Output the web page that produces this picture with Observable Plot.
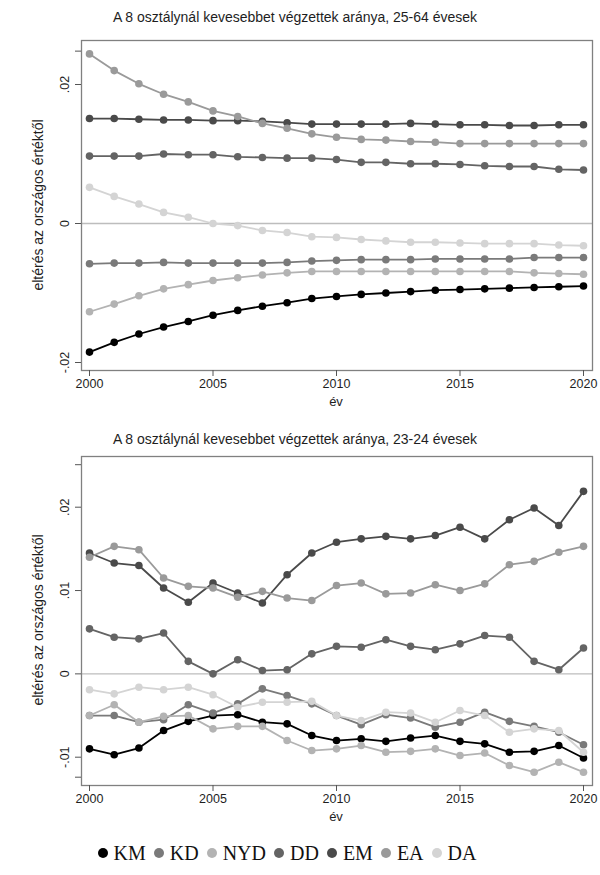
<!DOCTYPE html>
<html>
<head>
<meta charset="utf-8">
<script src="https://cdn.jsdelivr.net/npm/d3@7"></script>
<script src="https://cdn.jsdelivr.net/npm/@observablehq/plot@0.6"></script>
<style>
  body { margin: 0; background: #fff; width: 600px; height: 875px; position: relative; overflow: hidden;
         font-family: "Liberation Sans", Arial, sans-serif; color: #1e1e1e; }
  .abs { position: absolute; }
  .panel { position: absolute; left: 0; width: 600px; height: 410px; }
  .title { font-size: 14px; left: 0; width: 590px; text-align: center; white-space: nowrap; }
  .ylab { font-size: 14px; white-space: nowrap; transform: translate(-50%, -50%) rotate(-90deg); }
  .xlab { font-size: 13px; transform: translate(-50%, -50%); }
  .legend { left: 0; width: 574px; text-align: center; font-family: "Liberation Serif", "Times New Roman", serif;
            font-size: 20px; color: #111; white-space: nowrap; }
  .legend .item { display: inline-block; margin: 0 4px; }
  .legend .dot { display: inline-block; width: 10px; height: 10px; border-radius: 50%; margin-right: 6px; vertical-align: 2px; }
  #err { position: absolute; left: 100px; top: 100px; color: red; font-size: 11px; width: 480px; }
</style>
</head>
<body>
<div id="top" class="panel" style="top:0"></div>
<div id="bottom" class="panel" style="top:420px"></div>
<div class="abs title" style="top:9px">A 8 osztálynál kevesebbet végzettek aránya, 25-64 évesek</div>
<div class="abs ylab" style="left:38px; top:205px">eltérés az országos értéktől</div>
<div class="abs xlab" style="left:336px; top:401px">év</div>
<div class="abs title" style="top:431px">A 8 osztálynál kevesebbet végzettek aránya, 23-24 évesek</div>
<div class="abs ylab" style="left:38px; top:620px">eltérés az országos értéktől</div>
<div class="abs xlab" style="left:336px; top:816px">év</div>
<div id="legend" class="abs legend" style="top:842px"></div>
<div id="err"></div>
<script>
const years = [2000, 2001, 2002, 2003, 2004, 2005, 2006, 2007, 2008, 2009, 2010,
               2011, 2012, 2013, 2014, 2015, 2016, 2017, 2018, 2019, 2020];
const xTicks = [2000, 2005, 2010, 2015, 2020];
const seriesNames = ["KM", "KD", "NYD", "DD", "EM", "EA", "DA"];
const seriesColors = ["#000000", "#7a7a7a", "#b3b3b3", "#646464", "#4a4a4a", "#9a9a9a", "#d4d4d4"];

// Panel 1: 25-64 évesek
const top_KM  = [-0.0185, -0.0171, -0.0159, -0.0149, -0.0141, -0.0132, -0.0125, -0.0119, -0.0114, -0.0108, -0.0105, -0.0102, -0.0100, -0.0098, -0.0096, -0.0095, -0.0094, -0.0093, -0.0092, -0.0091, -0.0090];
const top_KD  = [-0.0058, -0.0057, -0.0057, -0.0056, -0.0057, -0.0057, -0.0057, -0.0057, -0.0056, -0.0054, -0.0053, -0.0052, -0.0052, -0.0052, -0.0051, -0.0051, -0.0051, -0.0051, -0.0049, -0.0049, -0.0049];
const top_NYD = [-0.0127, -0.0116, -0.0104, -0.0094, -0.0088, -0.0082, -0.0078, -0.0074, -0.0071, -0.0069, -0.0069, -0.0069, -0.0069, -0.0069, -0.0069, -0.0069, -0.0069, -0.0069, -0.0071, -0.0072, -0.0073];
const top_DD  = [0.0097, 0.0097, 0.0097, 0.0100, 0.0099, 0.0099, 0.0096, 0.0095, 0.0094, 0.0094, 0.0092, 0.0088, 0.0088, 0.0086, 0.0086, 0.0085, 0.0083, 0.0082, 0.0082, 0.0078, 0.0077];
const top_EM  = [0.0151, 0.0151, 0.0150, 0.0149, 0.0149, 0.0148, 0.0148, 0.0147, 0.0145, 0.0143, 0.0143, 0.0143, 0.0143, 0.0144, 0.0143, 0.0142, 0.0142, 0.0141, 0.0141, 0.0142, 0.0142];
const top_EA  = [0.0244, 0.0220, 0.0201, 0.0186, 0.0175, 0.0162, 0.0154, 0.0144, 0.0137, 0.0129, 0.0124, 0.0121, 0.0120, 0.0118, 0.0117, 0.0115, 0.0115, 0.0115, 0.0115, 0.0115, 0.0115];
const top_DA  = [0.0052, 0.0039, 0.0028, 0.0016, 0.0009, 0.0000, -0.0003, -0.0010, -0.0013, -0.0019, -0.0020, -0.0023, -0.0025, -0.0027, -0.0027, -0.0028, -0.0029, -0.0029, -0.0029, -0.0031, -0.0032];
const topLabelTicks = [-0.02, 0, 0.02];
const topTickLabels = ["-.02", "0", ".02"];
const topExtraTicks = [0.0248];

// Panel 2: 23-24 évesek
const bot_KM  = [-0.0090, -0.0097, -0.0089, -0.0068, -0.0057, -0.0050, -0.0049, -0.0058, -0.0060, -0.0074, -0.0080, -0.0078, -0.0081, -0.0077, -0.0074, -0.0081, -0.0084, -0.0094, -0.0093, -0.0086, -0.0101];
const bot_KD  = [-0.0050, -0.0050, -0.0058, -0.0055, -0.0037, -0.0047, -0.0036, -0.0018, -0.0026, -0.0036, -0.0050, -0.0061, -0.0049, -0.0053, -0.0064, -0.0058, -0.0046, -0.0057, -0.0063, -0.0070, -0.0085];
const bot_NYD = [-0.0050, -0.0037, -0.0058, -0.0051, -0.0050, -0.0066, -0.0063, -0.0063, -0.0080, -0.0092, -0.0090, -0.0086, -0.0094, -0.0093, -0.0090, -0.0098, -0.0095, -0.0110, -0.0118, -0.0106, -0.0118];
const bot_DD  = [0.0054, 0.0044, 0.0042, 0.0049, 0.0015, 0.0000, 0.0017, 0.0004, 0.0005, 0.0024, 0.0033, 0.0032, 0.0041, 0.0033, 0.0029, 0.0036, 0.0046, 0.0044, 0.0015, 0.0005, 0.0031];
const bot_EM  = [0.0145, 0.0133, 0.0130, 0.0103, 0.0086, 0.0109, 0.0097, 0.0085, 0.0119, 0.0145, 0.0158, 0.0162, 0.0165, 0.0162, 0.0166, 0.0176, 0.0162, 0.0185, 0.0199, 0.0178, 0.0219];
const bot_EA  = [0.0140, 0.0153, 0.0149, 0.0115, 0.0105, 0.0103, 0.0092, 0.0099, 0.0091, 0.0088, 0.0106, 0.0109, 0.0096, 0.0097, 0.0107, 0.0100, 0.0108, 0.0131, 0.0135, 0.0146, 0.0153];
const bot_DA  = [-0.0019, -0.0024, -0.0016, -0.0019, -0.0016, -0.0025, -0.0040, -0.0034, -0.0034, -0.0033, -0.0050, -0.0056, -0.0046, -0.0047, -0.0058, -0.0044, -0.0050, -0.0070, -0.0066, -0.0068, -0.0094];
const botLabelTicks = [-0.01, 0, 0.01, 0.02];
const botTickLabels = ["-.01", "0", ".01", ".02"];
const botExtraTicks = [0.0251, -0.0124];

function toLong(arrays) {
  const rows = [];
  seriesNames.forEach((s, i) => {
    arrays[i].forEach((v, j) => rows.push({series: s, year: years[j], value: v}));
  });
  return rows;
}

function panel({rows, height, marginTop, marginBottom, yDomain, yRange, labelTicks, tickLabels, extraTicks}) {
  const seriesMarks = [];
  seriesNames.forEach((s, i) => {
    const d = rows.filter(r => r.series === s);
    seriesMarks.push(Plot.line(d, {x: "year", y: "value", stroke: seriesColors[i], strokeWidth: 1.8}));
    seriesMarks.push(Plot.dot(d, {x: "year", y: "value", fill: seriesColors[i], r: 3.8}));
  });
  const labelRows = labelTicks.map((v, i) => ({v, t: tickLabels[i]}));
  return Plot.plot({
    width: 600, height, marginTop, marginBottom, marginLeft: 81, marginRight: 8,
    x: {domain: [2000, 2020], range: [89, 583]},
    y: {domain: yDomain, range: yRange},
    style: {fontFamily: '"Liberation Sans", Arial, sans-serif', fontSize: "12.5px", color: "#1e1e1e", background: "transparent"},
    marks: [
      Plot.ruleY([0], {stroke: "#bdbdbd", strokeWidth: 1.3}),
      ...seriesMarks,
      Plot.frame({stroke: "#808080", strokeWidth: 1.3}),
      Plot.axisX({ticks: xTicks, tickFormat: d => String(d), tickSize: 6, tickPadding: 3, label: null, stroke: "#555"}),
      Plot.axisY({ticks: [...labelTicks, ...extraTicks], tickFormat: () => "", tickSize: 6, label: null, stroke: "#555"}),
      Plot.text(labelRows, {y: "v", text: "t", frameAnchor: "left", dx: -17, rotate: -90,
                            textAnchor: "middle", lineAnchor: "middle", fill: "#1e1e1e", fontSize: 12.5})
    ]
  });
}

try {
  const s1 = panel({
    rows: toLong([top_KM, top_KD, top_NYD, top_DD, top_EM, top_EA, top_DA]),
    height: 410, marginTop: 40, marginBottom: 40,
    yDomain: [-0.02, 0.02], yRange: [362, 84],
    labelTicks: topLabelTicks, tickLabels: topTickLabels, extraTicks: topExtraTicks
  });
  document.getElementById("top").appendChild(s1);
  const s2 = panel({
    rows: toLong([bot_KM, bot_KD, bot_NYD, bot_DD, bot_EM, bot_EA, bot_DA]),
    height: 410, marginTop: 36, marginBottom: 45,
    yDomain: [-0.01, 0.02], yRange: [336.7, 86.7],
    labelTicks: botLabelTicks, tickLabels: botTickLabels, extraTicks: botExtraTicks
  });
  document.getElementById("bottom").appendChild(s2);
} catch (e) {
  document.getElementById("err").textContent = "ERR: " + e.message;
}

const legend = document.getElementById("legend");
seriesNames.forEach((s, i) => {
  const item = document.createElement("span");
  item.className = "item";
  const dot = document.createElement("span");
  dot.className = "dot";
  dot.style.background = seriesColors[i];
  item.appendChild(dot);
  item.appendChild(document.createTextNode(s));
  legend.appendChild(item);
});
</script>
</body>
</html>
